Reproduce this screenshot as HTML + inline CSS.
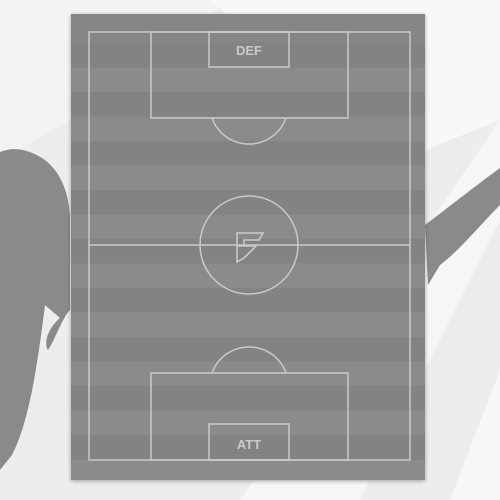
<!DOCTYPE html>
<html><head><meta charset="utf-8"><style>
html,body{margin:0;padding:0;width:500px;height:500px;overflow:hidden;background:#ececec;font-family:"Liberation Sans",sans-serif}
</style></head><body>
<svg width="500" height="500" viewBox="0 0 500 500">
<defs><filter id="sh" x="-10%" y="-10%" width="120%" height="120%"><feGaussianBlur stdDeviation="2"/></filter></defs>
<g>
<rect width="500" height="500" fill="#ededed"/>
<polygon points="0,0 230,0 70,120 0,160" fill="#f3f3f3"/>
<polygon points="500,120 500,220 360,500 240,500" fill="#f6f6f6"/>
<polygon points="210,0 500,0 500,120 400,160" fill="#f8f8f8"/>
<polygon points="500,370 500,500 450,500" fill="#f7f7f7"/>
</g>
<g fill="#8a8a8a">
<path d="M0,152 C15,146 30,150 45,160 C60,172 68,190 70,215 L70,310 C62,318 55,340 48,350 C44,345 46,330 60,318 L45,305 C38,360 30,420 12,455 L0,470 Z"/>
</g>
<g fill="#8a8a8a">
<path d="M500,168 L500,205 C480,225 460,250 440,265 L428,285 L425,225 C445,210 470,190 500,168 Z"/>
</g>
<rect x="71" y="15" width="354" height="466" fill="#000" opacity="0.35" filter="url(#sh)"/>
<g id="pitch"></g>
<g fill="none" stroke="#c9c9c9" stroke-width="1.5">
<rect x="89" y="32" width="321" height="428"/>
<line x1="89" y1="245" x2="410" y2="245"/>
<circle cx="249" cy="245" r="49"/>
<rect x="151" y="32" width="197" height="86"/>
<rect x="209" y="32" width="80" height="35"/>
<path d="M212,118 A39.3,39.3 0 0 0 286,118"/>
<rect x="151" y="373" width="197" height="87"/>
<rect x="209" y="424" width="80" height="36"/>
<path d="M212,373 A39.3,39.3 0 0 1 286,373"/>
<path d="M237,233 L263,233 L259,240 L244,240 L244,246 L256,246 L244,258 L237,262 Z M244,246 L237,246" stroke-width="1.6"/>
</g>
<text x="249" y="55" text-anchor="middle" font-size="13" font-weight="bold" fill="#cacaca">DEF</text>
<text x="249" y="449" text-anchor="middle" font-size="13" font-weight="bold" fill="#cacaca">ATT</text>
</svg>
<script>
const stripeIndex=[0,1,2,3,4,5,6,7,8,9,10,11,12,13,14,15,16,17,18,19];
const g=document.getElementById('pitch');
const ns='http://www.w3.org/2000/svg';
const bg=document.createElementNS(ns,'rect');
bg.setAttribute('x',71);bg.setAttribute('y',14);bg.setAttribute('width',354);bg.setAttribute('height',466);bg.setAttribute('fill','#8b8b8b');


g.appendChild(bg);
const h=24.5;
stripeIndex.forEach(i=>{
  if(i%2===0){
    const r=document.createElementNS(ns,'rect');
    const y=43+i*h;
    if(y>480)return;
    r.setAttribute('x',71);r.setAttribute('y',y);r.setAttribute('width',354);r.setAttribute('height',Math.min(h,480-y));r.setAttribute('fill','#838383');
    
    
    g.appendChild(r);
  }
});
const t=document.createElementNS(ns,'rect');
t.setAttribute('x',71);t.setAttribute('y',14);t.setAttribute('width',354);t.setAttribute('height',29);t.setAttribute('fill','#868686');


g.appendChild(t);
</script>
</body></html>
